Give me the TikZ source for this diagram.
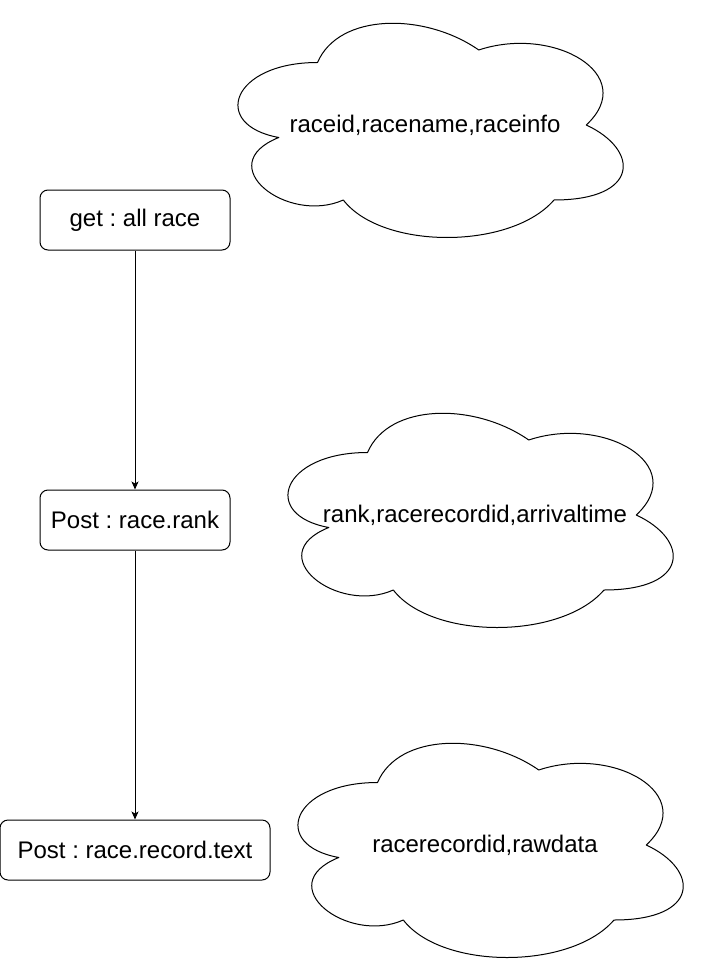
\documentclass[tikz,border=0pt]{standalone}
\usepackage{fontspec}
\setmainfont{Liberation Sans}
\usetikzlibrary{arrows.meta}
\frenchspacing
\tikzset{
  box/.style={draw, line width=1pt, rounded corners=8pt, inner sep=0pt, font=\fontsize{24}{28}\selectfont},
  cloudtext/.style={inner sep=0pt, font=\fontsize{24}{28}\selectfont},
  arr/.style={draw, line width=1pt, -{Stealth[length=8pt,width=7pt,inset=2pt]}},
  cloudline/.style={draw, line width=1pt, line join=round}
}
\begin{document}
\begin{tikzpicture}[x=1pt, y=-1pt]
\useasboundingbox (0,0) rectangle (701,971);
% boxes
\node[box, minimum width=190pt, minimum height=60pt] (a) at (135,220) {get : all race};
\node[box, minimum width=190pt, minimum height=60pt] (b) at (135,520) {Post : race.rank};
\node[box, minimum width=270pt, minimum height=60pt] (c) at (135,850) {Post : race.record.text};
\draw[arr] (a) -- (b);
\draw[arr] (b) -- (c);
% cloud labels
\node[cloudtext] (c1) at (425,125) {raceid,racename,raceinfo};
\node[cloudtext] (c2) at (475,515) {rank,racerecordid,arrivaltime};
\node[cloudtext] (c3) at (485,845) {racerecordid,rawdata};
% cloud outlines
\foreach \cx/\cy in {210/0, 260/390, 270/720}{
  \begin{scope}[shift={(\cx,\cy)}, x=430pt, y=-250pt]
    \path[cloudline] (0.25,0.25) .. controls (0.05,0.25) and (0,0.5) .. (0.16,0.55)
      .. controls (0,0.66) and (0.18,0.9) .. (0.31,0.8)
      .. controls (0.4,1) and (0.7,1) .. (0.8,0.8)
      .. controls (1,0.8) and (1,0.6) .. (0.875,0.5)
      .. controls (1,0.3) and (0.8,0.1) .. (0.625,0.2)
      .. controls (0.5,0.05) and (0.3,0.05) .. (0.25,0.25) -- cycle;
  \end{scope}
}
\end{tikzpicture}
\end{document}
